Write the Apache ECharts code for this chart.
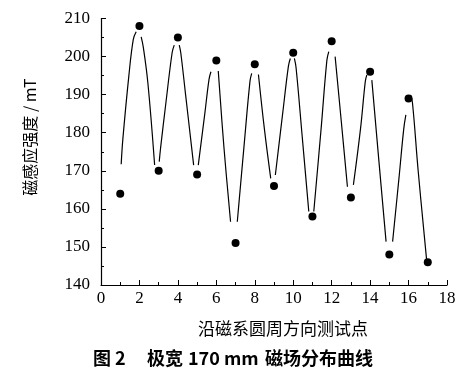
<!DOCTYPE html>
<html><head><meta charset="utf-8">
<script src="https://cdn.jsdelivr.net/npm/echarts@6/dist/echarts.min.js"></script>
<style>html,body{margin:0;padding:0;background:#fff}#c{width:474px;height:374px}</style>
</head><body><div id="c"></div>
<script>
// Measured points (test point index, field strength mT)
const pointX = [1,2,3,4,5,6,7,8,9,10,11,12,13,14,15,16,17];
const pointY = [164,208,170,205,169,199,151,198,166,201,158,204,163,196,148,189,146];
// Fitted curve, drawn in segments broken around each marker
const curveSegments = [
  [[1.05,171.7],[1.14,178.5],[1.45,195],[1.68,204.5],[1.83,206.5]],
  [[2.09,205.2],[2.2,202.5],[2.44,193],[2.79,171.5]],
  [[3.03,172.4],[3.1,176],[3.38,188],[3.7,201],[3.81,203]],
  [[4.07,203],[4.15,201],[4.4,190],[4.82,171.5]],
  [[5.06,171.5],[5.4,185],[5.62,194],[5.72,196]],
  [[6.1,196.2],[6.4,175.9],[6.74,156.6]],
  [[7.09,156.6],[7.45,177],[7.75,193.5],[7.84,195.6]],
  [[8.19,195.3],[8.5,181],[8.83,168]],
  [[9.07,168.9],[9.45,185],[9.75,197.5],[9.85,199.5]],
  [[10.06,199.5],[10.15,197],[10.45,180],[10.81,159.3]],
  [[11.07,159.3],[11.45,181],[11.75,199],[11.85,201.3]],
  [[12.18,200],[12.5,183],[12.82,165.8]],
  [[13.13,166.3],[13.5,181],[13.75,193.5],[13.83,195.2]],
  [[14.09,193.8],[14.45,173],[14.83,151.4]],
  [[15.17,151.4],[15.5,168],[15.75,181],[15.86,184.7]],
  [[16.1,189.9],[16.2,188],[16.5,170],[16.94,146.6]]
];
const xTicks = [0,2,4,6,8,10,12,14,16,18];
const yTicks = [140,150,160,170,180,190,200,210];
const yName = '磁感应强度 / mT';
const xName = '沿磁系圆周方向测试点';
const captionParts = ['图 2', '极宽', '170 mm', '磁场分布曲线'];

const chart = echarts.init(document.getElementById('c'));
const serif = "'Liberation Serif', 'Times New Roman', serif";
const cjk = "'Noto Sans CJK SC', sans-serif";
const series = curveSegments.map(seg => ({
  type: 'line', data: seg, smooth: 0.4, symbol: 'none',
  lineStyle: {color: '#000', width: 1.2}, silent: true, z: 2
}));
series.push({
  type: 'scatter', data: pointX.map((x,i)=>[x,pointY[i]]),
  symbol: 'circle', symbolSize: 8, itemStyle: {color: '#000', opacity: 1}, z: 3
});
const capX = [93, 147, 188, 265];
chart.setOption({
  animation: false,
  grid: {left: 101, right: 27, top: 18.5, bottom: 89},
  xAxis: {
    type: 'value', min: xTicks[0], max: xTicks[xTicks.length-1], interval: 2,
    axisLine: {lineStyle: {color: '#000', width: 1.2}},
    axisTick: {inside: true, length: 5, lineStyle: {color: '#000'}},
    minorTick: {show: true, splitNumber: 2, length: 3, lineStyle: {color: '#000'}},
    splitLine: {show: false},
    axisLabel: {color: '#000', fontFamily: serif, fontSize: 17, margin: 5}
  },
  yAxis: {
    type: 'value', min: yTicks[0], max: yTicks[yTicks.length-1], interval: 10,
    axisLine: {show: true, lineStyle: {color: '#000', width: 1.2}},
    axisTick: {show: true, inside: true, length: 5, lineStyle: {color: '#000'}},
    minorTick: {show: true, splitNumber: 2, length: 3, lineStyle: {color: '#000'}},
    splitLine: {show: false},
    axisLabel: {color: '#000', fontFamily: serif, fontSize: 17, margin: 11}
  },
  graphic: [
    {type: 'text', x: 30, y: 137, rotation: Math.PI/2,
     style: {text: yName, font: '16px ' + cjk, fill: '#000', textAlign: 'center', textVerticalAlign: 'middle'}},
    {type: 'text', x: 283, y: 329,
     style: {text: xName, font: '17px ' + cjk, fill: '#000', textAlign: 'center', textVerticalAlign: 'middle'}}
  ].concat(captionParts.map((t,i)=>({type: 'text', x: capX[i], y: 358,
     style: {text: t, font: 'bold 18px ' + cjk, fill: '#000', textAlign: 'left', textVerticalAlign: 'middle'}}))),
  series: series
});
</script></body></html>
